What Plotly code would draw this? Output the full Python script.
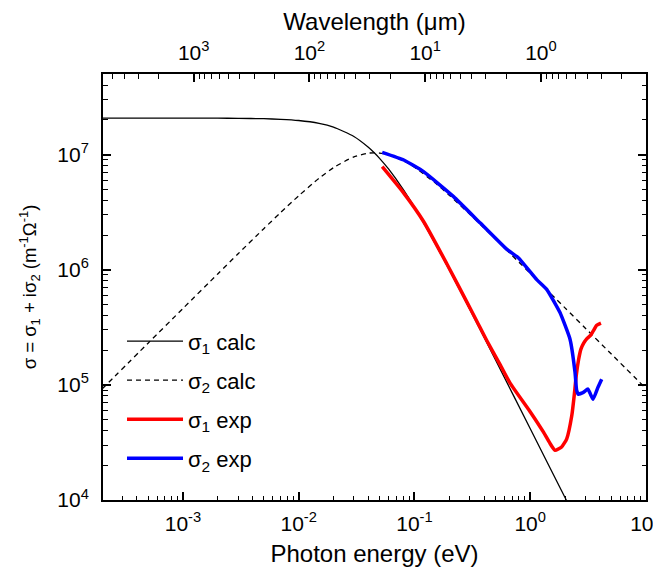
import math
import plotly.graph_objects as go

# ---- data ----
E_calc = [2.0e-4, 5e-4, 1e-3, 2e-3, 3e-3, 5e-3, 7e-3, 0.01, 0.015, 0.02, 0.03, 0.04, 0.045,
          0.05, 0.06, 0.08, 0.1, 0.15, 0.2, 0.3, 0.5, 1.0, 2.0, 3.0, 5.0, 10.0]
sigma1_calc = [2.07e7, 2.070e7, 2.069e7, 2.066e7, 2.061e7, 2.045e7, 2.021e7, 1.973e7, 1.863e7,
               1.729e7, 1.433e7, 1.156e7, 1.035e7, 9.26e6, 7.45e6, 4.98e6, 3.49e6, 1.71e6,
               9.98e5, 4.56e5, 1.66e5, 4.18e4, 1.05e4, 4.66e3, 1.68e3, 4.2e2]
sigma2_calc = [9.20e4, 2.30e5, 4.60e5, 9.18e5, 1.374e6, 2.27e6, 3.14e6, 4.38e6, 6.21e6,
               7.68e6, 9.55e6, 1.028e7, 1.035e7, 1.029e7, 9.94e6, 8.85e6, 7.75e6, 5.70e6,
               4.43e6, 3.04e6, 1.85e6, 9.30e5, 4.66e5, 3.10e5, 1.86e5, 9.3e4]

E_s1_exp = [0.0527, 0.0809, 0.120, 0.191, 0.285, 0.347, 0.424, 0.55, 0.673, 1.0, 1.30, 1.49,
            1.64, 1.87, 2.07, 2.29, 2.40, 2.50, 2.62, 2.75, 2.90, 3.08, 3.34, 3.51, 3.76, 4.09]
sigma1_exp = [7.83e6, 4.62e6, 2.62e6, 1.12e6, 5.2e5, 3.55e5, 2.4e5, 1.50e5, 1.03e5, 5.85e4, 3.9e4,
              3.08e4, 2.70e4, 2.89e4, 3.40e4, 5.42e4, 8.0e4, 1.2e5, 1.65e5, 2.05e5, 2.30e5,
              2.51e5, 2.70e5, 2.94e5, 3.29e5, 3.43e5]

E_s2_exp = [0.0527, 0.0809, 0.120, 0.218, 0.371, 0.63, 0.79, 1.14, 1.39, 1.81, 2.21, 2.44,
            2.52, 2.60, 2.88, 3.15, 3.30, 3.50, 3.85, 4.15]
sigma2_exp = [1.045e7, 8.96e6, 7.10e6, 4.31e6, 2.54e6, 1.50e6, 1.27e6, 8.2e5, 6.75e5, 4.24e5,
              2.49e5, 1.29e5, 9.0e4, 8.3e4, 8.6e4, 9.2e4, 8.4e4, 7.5e4, 9.5e4, 1.12e5]

# tick labels
energy_ticks = [1e-3, 1e-2, 1e-1, 1e0, 1e1]
energy_ticktext = ["10<sup>-3</sup>", "10<sup>-2</sup>", "10<sup>-1</sup>", "10<sup>0</sup>", "10<sup>1</sup>"]
wavelength_ticks = [1e3, 1e2, 1e1, 1e0]
wavelength_ticktext = ["10<sup>3</sup>", "10<sup>2</sup>", "10<sup>1</sup>", "10<sup>0</sup>"]
sigma_ticks = [1e4, 1e5, 1e6, 1e7]
sigma_ticktext = ["10<sup>4</sup>", "10<sup>5</sup>", "10<sup>6</sup>", "10<sup>7</sup>"]

E_min, E_max = 2.04e-4, 10.02
S_min, S_max = 1e4, 5.0e7
HC = 1.2398  # eV*um, wavelength conversion

FONT = "Liberation Sans, Arial, sans-serif"

fig = go.Figure()
fig.add_trace(go.Scatter(x=E_calc, y=sigma1_calc, mode="lines", name="σ<sub>1</sub> calc",
                         line=dict(color="black", width=1.3, shape="spline", smoothing=0.6),
                         legendgroup="a"))
fig.add_trace(go.Scatter(x=E_calc, y=sigma2_calc, mode="lines", name="σ<sub>2</sub> calc",
                         line=dict(color="black", width=1.3, dash="5px,4px", shape="spline", smoothing=0.6),
                         legendgroup="b"))
fig.add_trace(go.Scatter(x=E_s1_exp, y=sigma1_exp, mode="lines", name="σ<sub>1</sub> exp",
                         line=dict(color="#ff0000", width=3.5, shape="spline", smoothing=0.5),
                         legendgroup="c"))
fig.add_trace(go.Scatter(x=E_s2_exp, y=sigma2_exp, mode="lines", name="σ<sub>2</sub> exp",
                         line=dict(color="#0000ff", width=3.5, shape="spline", smoothing=0.4),
                         legendgroup="d"))
# invisible companion trace so the wavelength (top) axis is drawn
fig.add_trace(go.Scatter(x=[HC / e for e in E_calc], y=sigma2_calc, xaxis="x2", yaxis="y",
                         mode="lines", line=dict(width=0), opacity=0, showlegend=False,
                         hoverinfo="skip"))

axis_common = dict(type="log", showline=True, linewidth=2, linecolor="black",
                   ticks="inside", ticklen=8, tickwidth=1.5, tickcolor="black",
                   showgrid=False, zeroline=False, automargin=False,
                   ticklabeloverflow="allow",
                   tickfont=dict(family=FONT, size=21, color="black"),
                   minor=dict(ticks="inside", ticklen=4.5, tickwidth=1.2, tickcolor="black",
                              dtick="D1", showgrid=False))

# the page body adds an 8px offset, so the figure is 8px smaller than the window
fig.update_layout(
    width=653, height=566,
    margin=dict(l=95, r=15, t=66, b=74),
    paper_bgcolor="white", plot_bgcolor="white",
    font=dict(family=FONT, size=21, color="black"),
    xaxis=dict(range=[math.log10(E_min), math.log10(E_max)], mirror=False,
               tickvals=energy_ticks, ticktext=energy_ticktext, ticklabelstandoff=4,
               title=dict(text="Photon energy (eV)", font=dict(size=24), standoff=11),
               **axis_common),
    xaxis2=dict(overlaying="x", side="top", anchor="y",
                range=[math.log10(HC / E_min), math.log10(HC / E_max)],
                tickvals=wavelength_ticks, ticktext=wavelength_ticktext, ticklabelstandoff=4,
                title=dict(text="Wavelength (μm)", font=dict(size=24), standoff=0),
                **axis_common),
    yaxis=dict(range=[math.log10(S_min), math.log10(S_max)], mirror="ticks",
               tickvals=sigma_ticks, ticktext=sigma_ticktext, ticklabelstandoff=8,
               title=dict(text="σ = σ<sub>1</sub> + iσ<sub>2</sub> (m<sup>-1</sup>Ω<sup>-1</sup>)",
                          font=dict(size=18.5), standoff=16),
               **axis_common),
    showlegend=True,
    legend=dict(x=0.035, y=0.422, xanchor="left", yanchor="top", bgcolor="rgba(0,0,0,0)",
                font=dict(family=FONT, size=22), traceorder="grouped", tracegroupgap=7.5,
                itemwidth=56),
)

fig.write_html("out.html")
